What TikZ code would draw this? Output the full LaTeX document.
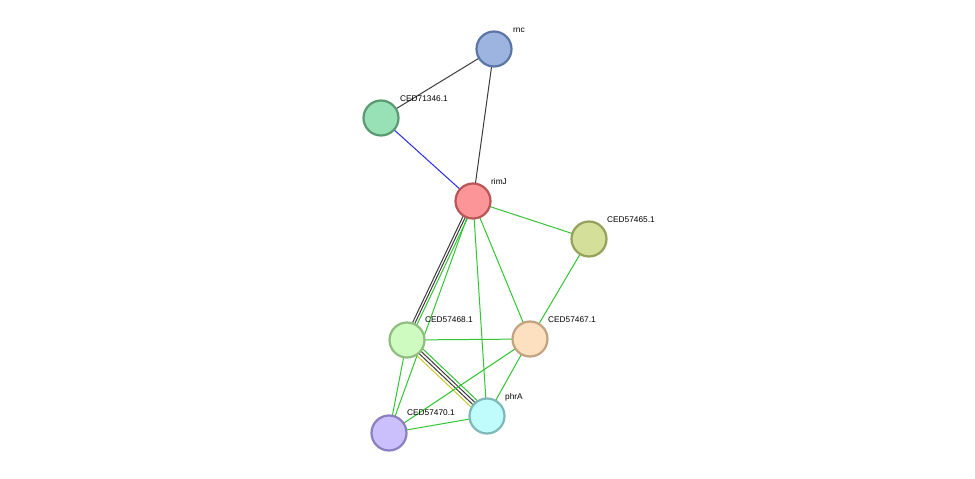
\documentclass[tikz,border=0pt]{standalone}
\usepackage{fontspec}
\setmainfont{Liberation Sans}
\usetikzlibrary{backgrounds}
\begin{document}
\begin{tikzpicture}[x=1pt,y=-1pt,
  nd/.style={circle,minimum size=35pt,inner sep=0pt,line width=2.2pt},
  lb/.style={anchor=base west,font=\fontsize{8.3}{10}\selectfont,inner sep=0pt},
  e/.style={line width=1pt},
  g/.style={e,draw={rgb,255:red,51;green,196;blue,51}},
  dk/.style={e,draw={rgb,255:red,60;green,60;blue,60}},
  bl/.style={e,draw={rgb,255:red,40;green,40;blue,240}},
  yl/.style={e,draw={rgb,255:red,200;green,200;blue,40}}]
\useasboundingbox (0,0) rectangle (975,479);
\node[nd,fill={rgb,255:red,157;green,180;blue,224},draw={rgb,255:red,90;green,117;blue,166}] (rnc) at (494,49) {};
\node[nd,fill={rgb,255:red,152;green,224;blue,181},draw={rgb,255:red,90;green,154;blue,114}] (c71) at (381,118) {};
\node[nd,fill={rgb,255:red,252;green,149;blue,151},draw={rgb,255:red,184;green,86;blue,87}] (rimJ) at (473,201) {};
\node[nd,fill={rgb,255:red,212;green,224;blue,154},draw={rgb,255:red,149;green,160;blue,90}] (c65) at (589,239) {};
\node[nd,fill={rgb,255:red,206;green,252;blue,192},draw={rgb,255:red,143;green,189;blue,128}] (c68) at (407,340) {};
\node[nd,fill={rgb,255:red,253;green,224;blue,192},draw={rgb,255:red,194;green,162;blue,127}] (c67) at (530,339) {};
\node[nd,fill={rgb,255:red,192;green,252;blue,252},draw={rgb,255:red,126;green,184;blue,184}] (phrA) at (487,416) {};
\node[nd,fill={rgb,255:red,203;green,192;blue,252},draw={rgb,255:red,138;green,128;blue,192}] (c70) at (389,433) {};
\begin{scope}[on background layer]
\draw[dk] (rnc.center) -- (c71.center);
\draw[dk] (rnc.center) -- (rimJ.center);
\draw[bl] (c71.center) -- (rimJ.center);
\draw[g] (rimJ.center) -- (c65.center);
\draw[dk,transform canvas={shift={(-2.2,-1)}}] (rimJ.center) -- (c68.center);
\draw[dk,transform canvas={shift={(0,0)}}] (rimJ.center) -- (c68.center);
\draw[g,transform canvas={shift={(2.2,1)}}] (rimJ.center) -- (c68.center);
\draw[g] (rimJ.center) -- (c67.center);
\draw[g] (rimJ.center) -- (phrA.center);
\draw[g] (rimJ.center) -- (c70.center);
\draw[g] (c65.center) -- (c67.center);
\draw[g] (c68.center) -- (c67.center);
\draw[yl,transform canvas={shift={(-3.1,3.2)}}] (c68.center) -- (phrA.center);
\draw[dk,transform canvas={shift={(-1,1.1)}}] (c68.center) -- (phrA.center);
\draw[dk,transform canvas={shift={(1,-1.1)}}] (c68.center) -- (phrA.center);
\draw[g,transform canvas={shift={(3.1,-3.2)}}] (c68.center) -- (phrA.center);
\draw[g] (c68.center) -- (c70.center);
\draw[g] (c67.center) -- (phrA.center);
\draw[g] (c67.center) -- (c70.center);
\draw[g] (c70.center) -- (phrA.center);
\end{scope}
\node[lb] at (513,32) {rnc};
\node[lb] at (400,101) {CED71346.1};
\node[lb] at (491,184) {rimJ};
\node[lb] at (607,222) {CED57465.1};
\node[lb] at (425,322) {CED57468.1};
\node[lb] at (548,322) {CED57467.1};
\node[lb] at (505,399) {phrA};
\node[lb] at (407,415) {CED57470.1};
\end{tikzpicture}
\end{document}
